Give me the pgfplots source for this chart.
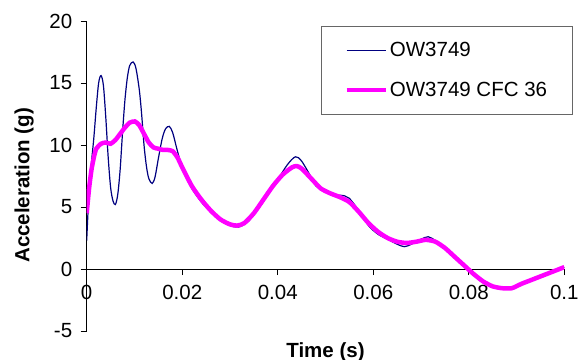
\documentclass[border=0pt]{standalone}
\usepackage{fontspec}
\setmainfont{Liberation Sans}
\usepackage{pgfplots}
\pgfplotsset{compat=1.18}
\definecolor{rawblue}{RGB}{0,0,128}
\definecolor{cfcmag}{RGB}{255,0,255}
\newcommand\ts{\fontsize{20.5bp}{24bp}\selectfont}
\begin{document}
\begin{tikzpicture}
\begin{axis}[
  at={(0,0)}, anchor=south west,
  scale only axis,
  width=477.6bp, height=310bp,
  xmin=0, xmax=0.1, ymin=-5, ymax=20,
  axis x line*=middle, axis y line*=left,
  hide obscured x ticks=false,
  axis line style={black, line width=0.8bp},
  xtick={0,0.02,0.04,0.06,0.08,0.1},
  ytick={-5,0,5,10,15,20},
  scaled x ticks=false,
  tick align=outside,
  major tick length=6bp,
  tick style={black, line width=0.8bp},
  /pgf/number format/assume math mode=true,
  xticklabel style={font=\ts, /pgf/number format/fixed, yshift=-7bp},
  yticklabel style={font=\ts, xshift=-5bp},
  xlabel={\textbf{Time (s)}},
  ylabel={\textbf{Acceleration (g)}},
  x label style={font=\ts, at={(axis description cs:0.5,-0.025)}, anchor=north},
  y label style={font=\ts, at={(axis description cs:-0.131,0.47)}, anchor=center, rotate=0},
  legend cell align=left,
  legend style={at={(axis description cs:0.4906,0.984)}, anchor=north west,
    draw=black!60, line width=0.8bp, font=\ts, inner xsep=23bp, inner ysep=14bp,
    row sep=20bp},
  legend image code/.code={\draw[#1] (0bp,0bp) -- (39bp,0bp);},
]
\addplot[rawblue, line width=1.2bp, smooth, tension=0.5] coordinates {
(0,2.3) (0.0005,6.3) (0.001,8.6) (0.0015,10.6) (0.002,13.0) (0.0025,15.0) (0.003,15.6)
(0.0035,14.8) (0.004,12.2) (0.0045,9.0) (0.005,6.6) (0.0055,5.5) (0.006,5.2) (0.0065,6.0)
(0.007,8.0) (0.0075,11.0) (0.008,13.6) (0.0085,15.4) (0.009,16.4) (0.0097,16.7) (0.0103,16.2)
(0.011,14.5) (0.0115,12.5) (0.012,10.0) (0.0125,8.3) (0.013,7.3) (0.0137,6.9) (0.0143,7.4)
(0.015,8.9) (0.0158,10.5) (0.0165,11.3) (0.0173,11.5) (0.018,11.0) (0.0188,9.8) (0.0195,8.8)
(0.020,8.1) (0.021,7.3) (0.022,6.5) (0.024,5.4) (0.026,4.6) (0.028,3.9) (0.030,3.5) (0.032,3.4)
(0.034,3.9) (0.036,4.9) (0.038,6.0) (0.040,7.2) (0.042,8.4) (0.0437,9.05) (0.045,8.7)
(0.047,7.4) (0.048,6.7) (0.050,6.2) (0.052,6.0) (0.054,5.9) (0.055,5.7) (0.057,4.7)
(0.059,3.5) (0.061,2.8) (0.063,2.4) (0.065,2.0) (0.0665,1.8) (0.068,2.0) (0.070,2.4)
(0.0715,2.6) (0.073,2.3) (0.075,1.7) (0.077,1.0) (0.079,0.3) (0.081,-0.4) (0.083,-1.0)
(0.085,-1.4) (0.087,-1.55) (0.089,-1.55) (0.091,-1.2) (0.093,-0.9) (0.095,-0.6) (0.097,-0.3)
(0.099,0.0) (0.1,0.15)
};
\addlegendentry{OW3749}
\addplot[cfcmag, line width=4.5bp, smooth, tension=0.4] coordinates {
(0,4.5) (0.0005,6.5) (0.001,8.0) (0.0015,9.0) (0.002,9.7) (0.003,10.1) (0.004,10.2)
(0.005,10.1) (0.006,10.4) (0.007,10.9) (0.008,11.4) (0.009,11.8) (0.0101,11.9) (0.011,11.6)
(0.012,10.9) (0.013,10.2) (0.014,9.8) (0.015,9.7) (0.016,9.6) (0.017,9.6) (0.018,9.5)
(0.019,9.0) (0.020,8.2) (0.022,6.7) (0.024,5.6) (0.026,4.7) (0.028,4.0) (0.030,3.6)
(0.0315,3.5) (0.033,3.7) (0.035,4.5) (0.037,5.6) (0.039,6.7) (0.041,7.6) (0.043,8.2)
(0.044,8.3) (0.045,8.1) (0.047,7.3) (0.049,6.5) (0.051,6.1) (0.053,5.8) (0.055,5.4)
(0.057,4.6) (0.059,3.7) (0.061,3.0) (0.063,2.5) (0.065,2.2) (0.067,2.1) (0.069,2.2)
(0.071,2.35) (0.073,2.2) (0.075,1.7) (0.077,1.0) (0.079,0.3) (0.081,-0.4) (0.083,-1.0)
(0.085,-1.4) (0.087,-1.55) (0.089,-1.55) (0.091,-1.2) (0.093,-0.9) (0.095,-0.6)
(0.097,-0.3) (0.099,0.0) (0.1,0.15)
};
\addlegendentry{OW3749 CFC 36}
\end{axis}
\pgfresetboundingbox
\path[use as bounding box] (-86.7bp,-29bp) rectangle (493.3bp,331bp);
\end{tikzpicture}
\end{document}
